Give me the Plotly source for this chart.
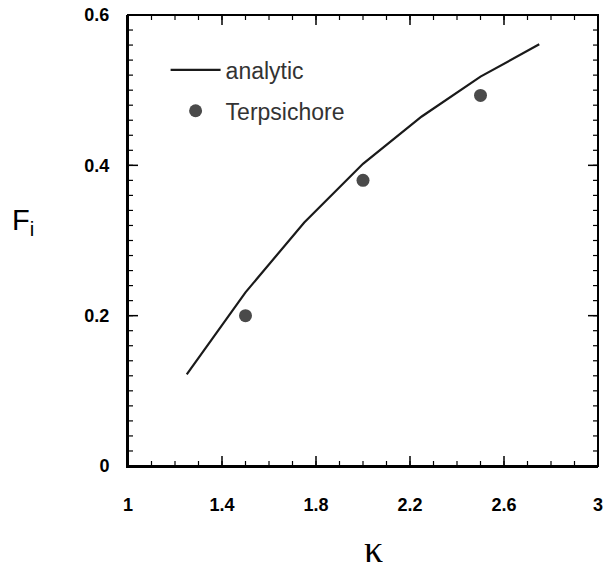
import plotly.graph_objects as go

# Data
kappa_analytic = [1.25, 1.5, 1.75, 2.0, 2.25, 2.5, 2.75]
F_analytic = [0.122, 0.231, 0.324, 0.402, 0.465, 0.518, 0.561]
kappa_terp = [1.5, 2.0, 2.5]
F_terp = [0.200, 0.380, 0.493]

x_ticks = [1, 1.4, 1.8, 2.2, 2.6, 3]
x_ticklabels = ["1", "1.4", "1.8", "2.2", "2.6", "3"]
y_ticks = [0, 0.2, 0.4, 0.6]
y_ticklabels = ["0", "0.2", "0.4", "0.6"]
x_minor = [round(1 + 0.1 * i, 2) for i in range(21)]
y_minor = [round(0.02 * i, 2) for i in range(31)]

fig = go.Figure()
fig.add_trace(go.Scatter(
    x=kappa_analytic, y=F_analytic, mode="lines", name="analytic",
    line=dict(color="#1a1a1a", width=2.2), legendgroup="a",
))
fig.add_trace(go.Scatter(
    x=kappa_terp, y=F_terp, mode="markers", name="Terpsichore",
    marker=dict(color="#4a4a4a", size=13, line=dict(width=0)), legendgroup="b",
))

tickfont = dict(family="Liberation Sans, Arial, sans-serif", size=18, color="#000000", weight="bold")
plain = dict(showgrid=False, zeroline=False)

fig.update_layout(
    xaxis=dict(
        range=[x_ticks[0], x_ticks[-1]], tickmode="array", tickvals=x_ticks, ticktext=x_ticklabels,
        showline=True, linecolor="#000000", linewidth=2, ticklabeloverflow="allow",
        ticks="outside", ticklen=21, tickcolor="rgba(0,0,0,0)", tickfont=tickfont, **plain,
    ),
    yaxis=dict(
        range=[y_ticks[0], y_ticks[-1]], tickmode="array", tickvals=y_ticks, ticktext=y_ticklabels,
        showline=True, linecolor="#000000", linewidth=2, ticklabeloverflow="allow",
        ticks="outside", ticklen=13, tickcolor="rgba(0,0,0,0)", tickfont=tickfont, **plain,
    ),
)

# frame (mirrored axis lines)
fig.add_shape(type="rect", xref="paper", yref="paper", x0=0, y0=0, x1=1, y1=1,
              line=dict(color="#000000", width=2), layer="above")

# inside tick marks on all four sides, placed through the axis scales
def tick_marks(vals, length, width):
    for v in vals:
        for anchor, sign in ((0, 1), (1, -1)):
            fig.add_shape(type="line", xref="x", yref="paper", x0=v, x1=v,
                          ysizemode="pixel", yanchor=anchor, y0=0, y1=sign * length,
                          line=dict(color="#000000", width=width), layer="above")


def ytick_marks(vals, length, width):
    for v in vals:
        for anchor, sign in ((0, 1), (1, -1)):
            fig.add_shape(type="line", xref="paper", yref="y", y0=v, y1=v,
                          xsizemode="pixel", xanchor=anchor, x0=0, x1=sign * length,
                          line=dict(color="#000000", width=width), layer="above")


tick_marks(x_minor, 5, 1.2)
tick_marks(x_ticks, 10, 1.5)
ytick_marks(y_minor, 5, 1.2)
ytick_marks(y_ticks, 10, 1.5)

fig.add_annotation(
    text="κ", xref="paper", yref="paper", x=0.522, y=-0.185, height=38,
    showarrow=False, xanchor="center", yanchor="middle",
    font=dict(family="Liberation Serif, Times New Roman, serif", size=38, color="#000000"),
)
fig.add_annotation(
    text="F<sub>i</sub>", xref="paper", yref="paper", x=-0.223, y=0.54,
    showarrow=False, xanchor="center", yanchor="middle",
    font=dict(family="Liberation Sans, Arial, sans-serif", size=29, color="#000000"),
)

fig.update_layout(
    width=608, height=570,
    margin=dict(l=128, r=5, t=14, b=104),
    paper_bgcolor="white", plot_bgcolor="white",
    showlegend=True,
    legend=dict(
        x=0.08, y=0.926, xanchor="left", yanchor="top",
        bgcolor="rgba(0,0,0,0)", borderwidth=0,
        font=dict(family="Liberation Sans, Arial, sans-serif", size=23, color="#333333"),
        tracegroupgap=8, itemwidth=50,
    ),
)

fig.write_html("out.html")
